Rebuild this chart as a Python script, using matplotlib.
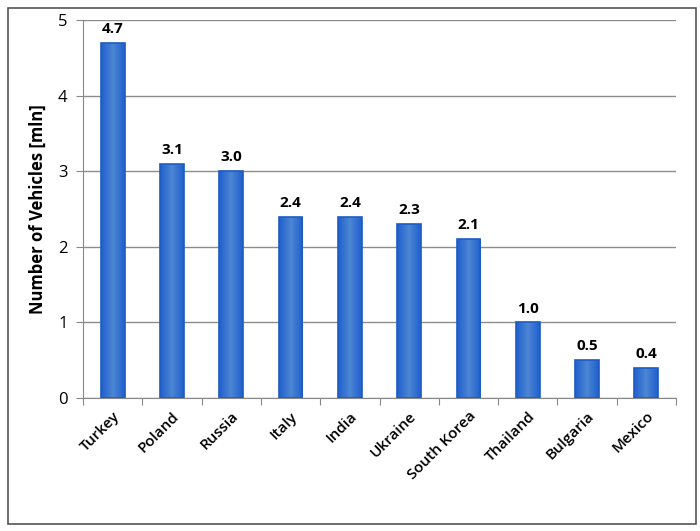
import matplotlib.pyplot as plt
import numpy as np
from matplotlib.colors import LinearSegmentedColormap
from matplotlib.patches import Rectangle

countries = ["Turkey", "Poland", "Russia", "Italy", "India", "Ukraine",
             "South Korea", "Thailand", "Bulgaria", "Mexico"]
vehicles = [4.7, 3.1, 3.0, 2.4, 2.4, 2.3, 2.1, 1.0, 0.5, 0.4]

plt.rcParams["font.family"] = ["Open Sans", "DejaVu Sans"]

fig = plt.figure(figsize=(7, 5.31), dpi=100)
ax = fig.add_axes([83 / 700, 1 - 398 / 531, (676 - 83) / 700, (398 - 20) / 531])

# outer frame
fig.patches.append(Rectangle((8 / 700, 1 - 524 / 531), 688 / 700, 516 / 531,
                             transform=fig.transFigure, fill=False,
                             edgecolor="#555555", linewidth=1.2))

x = range(len(countries))
bars = ax.bar(x, vehicles, width=0.4, color="none", edgecolor="#1d5cc4",
              linewidth=1.2, zorder=4)

# horizontal gradient inside each bar (dark edges, lighter middle)
cmap = LinearSegmentedColormap.from_list("barblue", ["#1f60cc", "#4d86d4", "#1f60cc"])
grad = np.linspace(0, 1, 64).reshape(1, -1)
for bar in bars:
    x0, w, h = bar.get_x(), bar.get_width(), bar.get_height()
    im = ax.imshow(grad, cmap=cmap, aspect="auto", extent=[x0, x0 + w, 0, h], zorder=3)
    im.set_clip_path(bar)

for bar in bars:
    h = bar.get_height()
    ax.text(bar.get_x() + bar.get_width() / 2, h + 0.09, f"{h:.1f}",
            ha="center", va="bottom", fontsize=11, fontweight="bold")

ax.set_xlim(-0.5, len(countries) - 0.5)
ax.set_ylim(0, 5)
ax.set_yticks(range(6))
ax.tick_params(axis="y", labelsize=12, length=5, color="#888888", pad=6)

ax.set_xticks([i - 0.5 for i in range(len(countries) + 1)])
ax.set_xticklabels([])
ax.set_xticks(list(x), minor=True)
ax.set_xticklabels(countries, minor=True, rotation=45, ha="right",
                   rotation_mode="anchor", fontsize=11, fontweight="semibold")
ax.tick_params(axis="x", which="major", length=5, color="#888888")
ax.tick_params(axis="x", which="minor", length=0, pad=8)

ax.grid(axis="y", color="#8c8c8c", linewidth=1, zorder=0)
for side in ["top", "right"]:
    ax.spines[side].set_visible(False)
ax.spines["left"].set_color("#888888")
ax.spines["bottom"].set_color("#888888")

ax.set_ylabel("Number of Vehicles [mln]", fontsize=12, fontweight="bold", labelpad=8)

fig.savefig("out.png", dpi=100)
